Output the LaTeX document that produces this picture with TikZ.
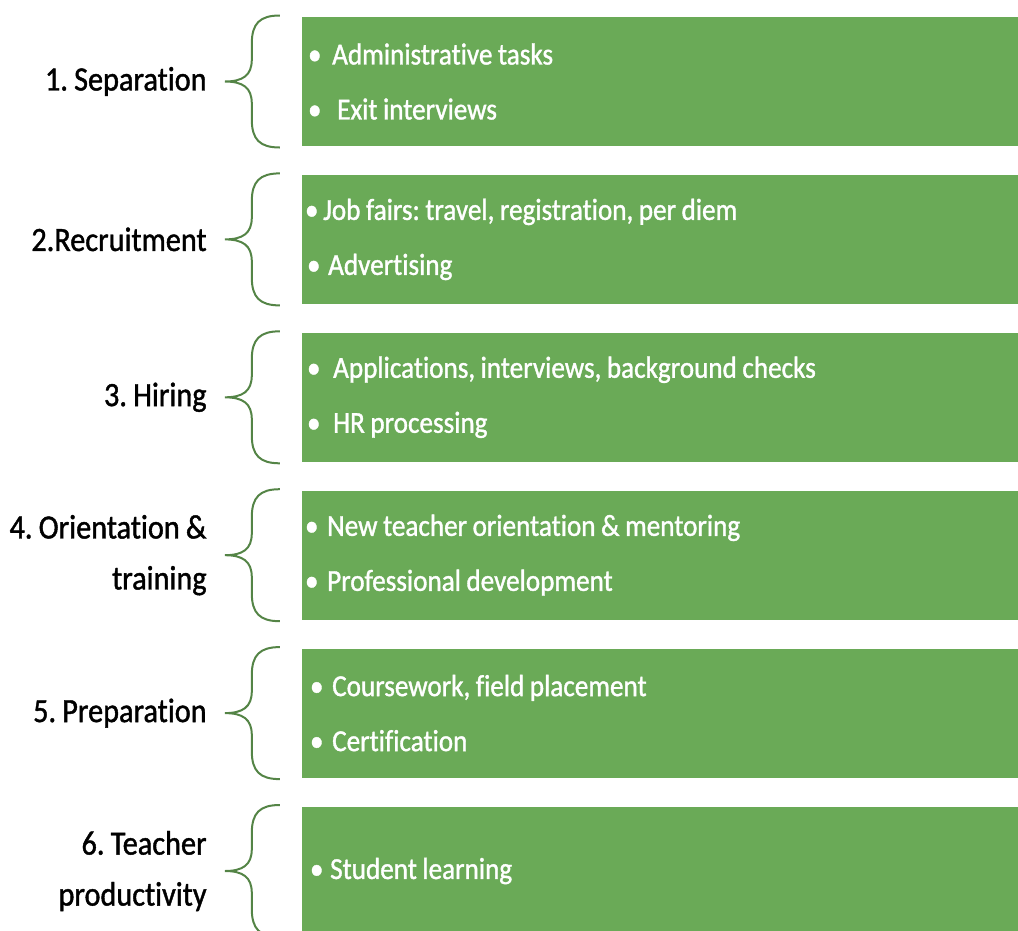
\documentclass[tikz,border=0pt]{standalone}
\usepackage{fontspec}
\setmainfont{Carlito}[Ligatures=NoCommon]
\newfontfamily\tallfont{Carlito}[Ligatures=NoCommon, FakeStretch=0.89, FakeBold=1.2, WordSpace=0.9]
\usetikzlibrary{positioning,calc}

\definecolor{boxgreen}{RGB}{106,170,87}
\definecolor{bracegreen}{RGB}{84,132,70}

% bullet with space before and after it
\newcommand{\itemdot}[2]{\hspace*{#1pt}\textbullet\hspace{#2pt}}

\begin{document}
\frenchspacing
\begin{tikzpicture}[x=1pt,y=1pt]

		% Define styles
		\tikzstyle{box} = [
		rectangle, minimum width=716pt, minimum height=129pt,
		text width=710pt, inner xsep=3pt, inner ysep=0pt,
		align=flush left, fill=boxgreen, text=white,
		font=\tallfont\fontsize{30.5pt}{55pt}\selectfont]
		\tikzstyle{stage} = [
		inner sep=0pt, align=flush right, anchor=east,
		font=\tallfont\fontsize{34pt}{51pt}\selectfont]
		\tikzstyle{curly} = [draw=bracegreen, line width=2pt]

		\useasboundingbox (0,0) rectangle (1018,-930);

		% Cost boxes
		\node (sep) [box] at (660,-81.5) {
			\itemdot{3}{10.7}Administrative tasks \\
			\itemdot{3}{15.7}Exit interviews
		};
		\node (rec) [box, below=28.5pt of sep] {
			\itemdot{0}{4.7}Job fairs: travel, registration, per diem \\
			\itemdot{2}{7.7}Advertising
		};
		\node (hir) [box, below=28.5pt of rec] {
			\itemdot{2}{12.7}Applications, interviews, background checks \\
			\itemdot{2}{12.7}HR processing
		};
		\node (ori) [box, below=28.5pt of hir] {
			\itemdot{0}{8.7}New teacher orientation \& mentoring \\
			\itemdot{0}{8.7}Professional development
		};
		\node (pre) [box, below=28.5pt of ori] {
			\itemdot{5}{8.7}Coursework, field placement \\
			\itemdot{5}{8.7}Certification
		};
		\node (pro) [box, below=28.5pt of pre] {
			\itemdot{5}{6.7}Student learning
		};

		% Stage names
		\node (sepl) [stage, left=95pt of sep] {1. Separation};
		\node (recl) [stage, left=95pt of rec] {2.Recruitment};
		\node (hirl) [stage, left=95pt of hir] {3. Hiring};
		\node (oril) [stage, left=95pt of ori] {4. Orientation \&\\ training};
		\node (prel) [stage, left=95pt of pre] {5. Preparation};
		\node (prol) [stage, left=95pt of pro] {6. Teacher\\ productivity};

		% Braces
		\foreach \b in {sep,rec,hir,ori,pre,pro}
		\draw [curly] ($(\b.west)+(-22,66)$)
			.. controls +(-20,0) and +(0,20) .. ++(-28,-28) -- ++(0,-16)
			.. controls +(0,-16) and +(18,0) .. ++(-27,-22)
			.. controls +(18,0) and +(0,16) .. ++(27,-22) -- ++(0,-16)
			.. controls +(0,-20) and +(-20,0) .. ++(28,-28);
	\end{tikzpicture}
\end{document}
